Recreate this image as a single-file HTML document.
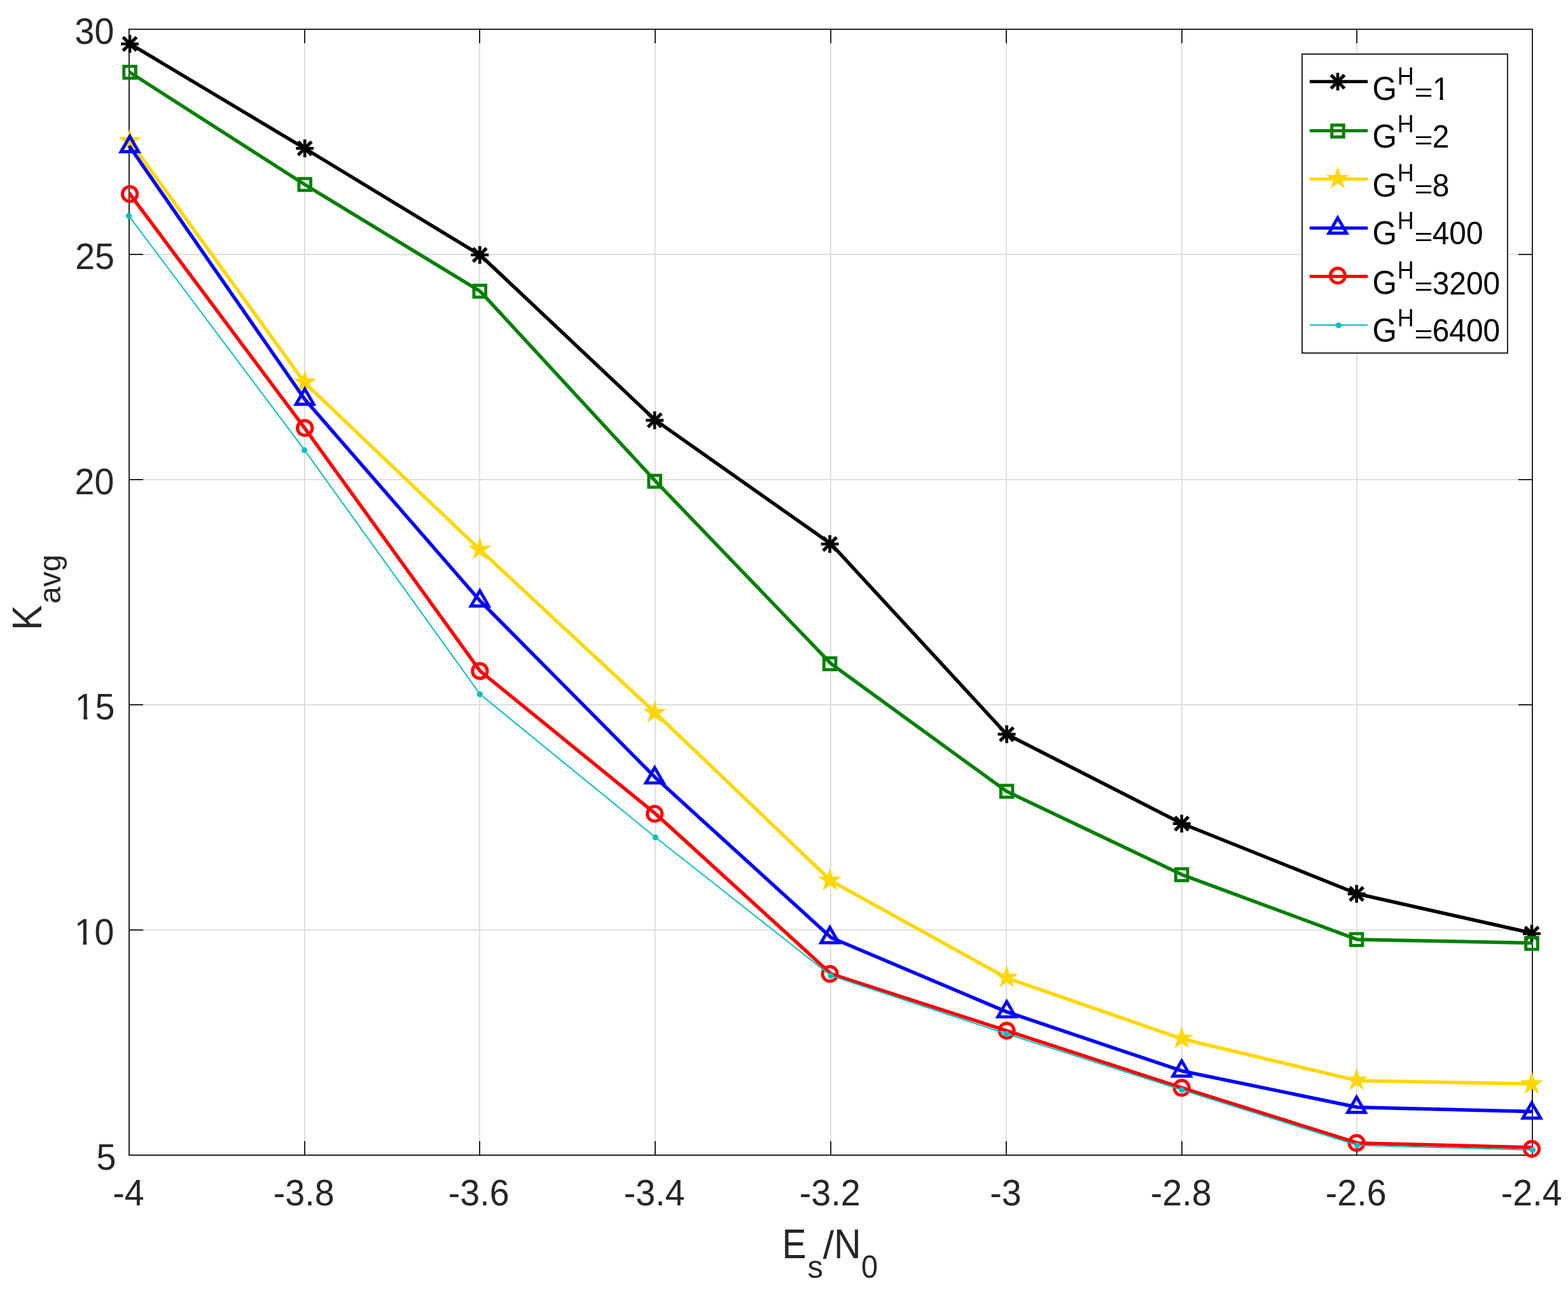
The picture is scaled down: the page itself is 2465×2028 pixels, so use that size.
<!DOCTYPE html>
<html lang="en">
<head>
<meta charset="utf-8">
<title>K_avg versus E_s/N_0</title>
<style>
html,body{margin:0;padding:0;background:#fff;}
body{width:2465px;height:2028px;overflow:hidden;}
svg{display:block;}
text{font-family:"Liberation Sans",Arial,Helvetica,sans-serif;font-kerning:none;}
</style>
</head>
<body>
<svg width="2465" height="2028" viewBox="0 0 2465 2028">
<rect width="2465" height="2028" fill="#fff"/>
<defs><clipPath id="k1"><path d="M-5.56 -55.6H38.92V-5.45H19.39V5.56H13.48V-5.45H-5.56Z"/></clipPath><clipPath id="k2"><path d="M-4.79 -47.9H33.53V-4.88H16.78V4.79H11.55V-4.88H-4.79Z"/></clipPath></defs>
<path d="M479 46V1816M754 46V1816M1030 46V1816M1306 46V1816M1582 46V1816M1858 46V1816M2133 46V1816M203 400H2409M203 754H2409M203 1108H2409M203 1462H2409" stroke="#DFDFDF" stroke-width="2" fill="none" shape-rendering="crispEdges"/>
<path d="M479 46v22M479 1816v-22M754 46v22M754 1816v-22M1030 46v22M1030 1816v-22M1306 46v22M1306 1816v-22M1582 46v22M1582 1816v-22M1858 46v22M1858 1816v-22M2133 46v22M2133 1816v-22M203 400h22M2409 400h-22M203 754h22M2409 754h-22M203 1108h22M2409 1108h-22M203 1462h22M2409 1462h-22" stroke="#262626" stroke-width="2" fill="none" shape-rendering="crispEdges"/>
<rect x="203" y="46" width="2206" height="1770" stroke="#262626" stroke-width="2" fill="none" shape-rendering="crispEdges"/>
<g>
<text transform="translate(202 1895.1) scale(1 1.0306)" font-size="55.6" fill="#262626" text-anchor="middle">-4</text>
<text transform="translate(477.7 1895.1) scale(1 1.0306)" font-size="55.6" fill="#262626" text-anchor="middle">-3.8</text>
<text transform="translate(752.7 1895.1) scale(1 1.0306)" font-size="55.6" fill="#262626" text-anchor="middle">-3.6</text>
<text transform="translate(1028.7 1895.1) scale(1 1.0306)" font-size="55.6" fill="#262626" text-anchor="middle">-3.4</text>
<text transform="translate(1304.7 1895.1) scale(1 1.0306)" font-size="55.6" fill="#262626" text-anchor="middle">-3.2</text>
<text transform="translate(1581 1895.1) scale(1 1.0306)" font-size="55.6" fill="#262626" text-anchor="middle">-3</text>
<text transform="translate(1856.7 1895.1) scale(1 1.0306)" font-size="55.6" fill="#262626" text-anchor="middle">-2.8</text>
<text transform="translate(2131.7 1895.1) scale(1 1.0306)" font-size="55.6" fill="#262626" text-anchor="middle">-2.6</text>
<text transform="translate(2407.7 1895.1) scale(1 1.0306)" font-size="55.6" fill="#262626" text-anchor="middle">-2.4</text>
</g>
<g>
<text transform="translate(179.4 69.4) scale(1 1.0252)" font-size="55.6" fill="#262626" text-anchor="end">30</text>
<text transform="translate(180 423.4) scale(1 1.0252)" font-size="55.6" fill="#262626" text-anchor="end">25</text>
<text transform="translate(179.4 777.4) scale(1 1.0252)" font-size="55.6" fill="#262626" text-anchor="end">20</text>
<text transform="translate(117.87 1131.4) scale(1 1.0396)" font-size="55.6" fill="#262626" clip-path="url(#k1)">1</text>
<text transform="translate(180.3 1131.4) scale(1 1.0252)" font-size="55.6" fill="#262626" text-anchor="end">5</text>
<text transform="translate(116.97 1485.4) scale(1 1.0396)" font-size="55.6" fill="#262626" clip-path="url(#k1)">1</text>
<text transform="translate(179.4 1485.4) scale(1 1.0252)" font-size="55.6" fill="#262626" text-anchor="end">0</text>
<text transform="translate(182.5 1839.4) scale(1 1.0252)" font-size="55.6" fill="#262626" text-anchor="end">5</text>
</g>
<g>
<text transform="translate(1229.4 1978) scale(1 1.1226)" font-size="57.1" fill="#262626">E</text>
<text transform="translate(1269.6 2008.7) scale(1 1.0123)" font-size="48.85" fill="#262626">s</text>
<text transform="translate(1293.8 1978.3) scale(1 0.9839)" font-size="62.2" fill="#262626">/</text>
<text transform="translate(1311.1 1978) scale(1 1.0864)" font-size="59" fill="#262626">N</text>
<text transform="translate(1354.1 2008.65) scale(1 1.0641)" font-size="46.8" fill="#262626">0</text>
</g>
<g>
<text transform="translate(65 990.64) rotate(-90) scale(1 1.0853)" font-size="59.06" fill="#262626">K</text>
<text transform="translate(95.1 949.1) rotate(-90) scale(1 1.0167)" font-size="47.9" fill="#262626">avg</text>
</g>
<g>
<polyline points="203,68.1 478.88,233.2 754.75,400.8 1030.62,660.8 1306.5,855.2 1582.38,1154.3 1858.25,1294.8 2134.12,1405.2 2410,1467.3" fill="none" stroke="#000000" stroke-width="5.5" stroke-linejoin="round"/>
<path d="M190.15 69H218.05M204.1 55.05V82.95" stroke="#000000" stroke-width="4.6" fill="none"/><path d="M193.5 58.4L214.7 79.6M193.5 79.6L214.7 58.4" stroke="#000000" stroke-width="5.2" fill="none"/>
<path d="M465.25 233.2H493.15M479.2 219.25V247.15" stroke="#000000" stroke-width="4.6" fill="none"/><path d="M468.6 222.6L489.8 243.8M468.6 243.8L489.8 222.6" stroke="#000000" stroke-width="5.2" fill="none"/>
<path d="M740.35 400.8H768.25M754.3 386.85V414.75" stroke="#000000" stroke-width="4.6" fill="none"/><path d="M743.7 390.2L764.9 411.4M743.7 411.4L764.9 390.2" stroke="#000000" stroke-width="5.2" fill="none"/>
<path d="M1015.25 660.8H1043.15M1029.2 646.85V674.75" stroke="#000000" stroke-width="4.6" fill="none"/><path d="M1018.6 650.2L1039.8 671.4M1018.6 671.4L1039.8 650.2" stroke="#000000" stroke-width="5.2" fill="none"/>
<path d="M1290.65 855.2H1318.55M1304.6 841.25V869.15" stroke="#000000" stroke-width="4.6" fill="none"/><path d="M1294 844.6L1315.2 865.8M1294 865.8L1315.2 844.6" stroke="#000000" stroke-width="5.2" fill="none"/>
<path d="M1568.65 1154.3H1596.55M1582.6 1140.35V1168.25" stroke="#000000" stroke-width="4.6" fill="none"/><path d="M1572 1143.7L1593.2 1164.9M1572 1164.9L1593.2 1143.7" stroke="#000000" stroke-width="5.2" fill="none"/>
<path d="M1843.75 1294.8H1871.65M1857.7 1280.85V1308.75" stroke="#000000" stroke-width="4.6" fill="none"/><path d="M1847.1 1284.2L1868.3 1305.4M1847.1 1305.4L1868.3 1284.2" stroke="#000000" stroke-width="5.2" fill="none"/>
<path d="M2118.65 1405.2H2146.55M2132.6 1391.25V1419.15" stroke="#000000" stroke-width="4.6" fill="none"/><path d="M2122 1394.6L2143.2 1415.8M2122 1415.8L2143.2 1394.6" stroke="#000000" stroke-width="5.2" fill="none"/>
<path d="M2394.05 1467.8H2421.95M2408 1453.85V1481.75" stroke="#000000" stroke-width="4.6" fill="none"/><path d="M2397.4 1457.2L2418.6 1478.4M2397.4 1478.4L2418.6 1457.2" stroke="#000000" stroke-width="5.2" fill="none"/>
</g>
<g>
<polyline points="203,113 478.88,290 754.75,457.8 1030.62,756.6 1306.5,1043.5 1582.38,1244 1858.25,1375.1 2134.12,1477.1 2410,1482.5" fill="none" stroke="#008000" stroke-width="5.5" stroke-linejoin="round"/>
<rect x="194.8" y="104.3" width="18.6" height="18.6" stroke="#008000" stroke-width="4.9" fill="none"/>
<rect x="469.9" y="280.7" width="18.6" height="18.6" stroke="#008000" stroke-width="4.9" fill="none"/>
<rect x="745" y="448.5" width="18.6" height="18.6" stroke="#008000" stroke-width="4.9" fill="none"/>
<rect x="1019.9" y="747.3" width="18.6" height="18.6" stroke="#008000" stroke-width="4.9" fill="none"/>
<rect x="1295.3" y="1034.2" width="18.6" height="18.6" stroke="#008000" stroke-width="4.9" fill="none"/>
<rect x="1573.3" y="1234.7" width="18.6" height="18.6" stroke="#008000" stroke-width="4.9" fill="none"/>
<rect x="1848.4" y="1365.8" width="18.6" height="18.6" stroke="#008000" stroke-width="4.9" fill="none"/>
<rect x="2123.3" y="1467.8" width="18.6" height="18.6" stroke="#008000" stroke-width="4.9" fill="none"/>
<rect x="2398.7" y="1473.8" width="18.6" height="18.6" stroke="#008000" stroke-width="4.9" fill="none"/>
</g>
<g>
<polyline points="203,220.6 478.88,601.5 754.75,864.5 1030.62,1121 1306.5,1384.8 1582.38,1537.3 1858.25,1633.2 2134.12,1698.9 2410,1704.1" fill="none" stroke="#FFD700" stroke-width="5.5" stroke-linejoin="round"/>
<polygon points="204.1,201.7 208.39,215.5 222.27,215.5 211.04,223.65 215.33,236.85 204.1,228.7 192.87,236.85 197.16,223.65 185.93,215.5 199.81,215.5" fill="#FFD700"/>
<polygon points="479.2,581.2 483.49,595 497.37,595 486.14,603.15 490.43,616.35 479.2,608.2 467.97,616.35 472.26,603.15 461.03,595 474.91,595" fill="#FFD700"/>
<polygon points="754.3,844.2 758.59,858 772.47,858 761.24,866.15 765.53,879.35 754.3,871.2 743.07,879.35 747.36,866.15 736.13,858 750.01,858" fill="#FFD700"/>
<polygon points="1029.2,1100.7 1033.49,1114.5 1047.37,1114.5 1036.14,1122.65 1040.43,1135.85 1029.2,1127.7 1017.97,1135.85 1022.26,1122.65 1011.03,1114.5 1024.91,1114.5" fill="#FFD700"/>
<polygon points="1304.6,1364.5 1308.89,1378.3 1322.77,1378.3 1311.54,1386.45 1315.83,1399.65 1304.6,1391.5 1293.37,1399.65 1297.66,1386.45 1286.43,1378.3 1300.31,1378.3" fill="#FFD700"/>
<polygon points="1582.6,1517 1586.89,1530.8 1600.77,1530.8 1589.54,1538.95 1593.83,1552.15 1582.6,1544 1571.37,1552.15 1575.66,1538.95 1564.43,1530.8 1578.31,1530.8" fill="#FFD700"/>
<polygon points="1857.7,1612.9 1861.99,1626.7 1875.87,1626.7 1864.64,1634.85 1868.93,1648.05 1857.7,1639.9 1846.47,1648.05 1850.76,1634.85 1839.53,1626.7 1853.41,1626.7" fill="#FFD700"/>
<polygon points="2132.6,1678.6 2136.89,1692.4 2150.77,1692.4 2139.54,1700.55 2143.83,1713.75 2132.6,1705.6 2121.37,1713.75 2125.66,1700.55 2114.43,1692.4 2128.31,1692.4" fill="#FFD700"/>
<polygon points="2408,1684.5 2412.29,1698.3 2426.17,1698.3 2414.94,1706.45 2419.23,1719.65 2408,1711.5 2396.77,1719.65 2401.06,1706.45 2389.83,1698.3 2403.71,1698.3" fill="#FFD700"/>
</g>
<g>
<polyline points="203,229.3 478.88,627.5 754.75,944.7 1030.62,1222.8 1306.5,1474 1582.38,1590.6 1858.25,1683.7 2134.12,1740.7 2410,1747.6" fill="none" stroke="#0000FF" stroke-width="5.5" stroke-linejoin="round"/>
<polygon points="204.1,214.45 218,238.53 190.2,238.53" fill="none" stroke="#0000FF" stroke-width="4.9" stroke-linejoin="miter"/>
<polygon points="479.2,611.45 493.1,635.53 465.3,635.53" fill="none" stroke="#0000FF" stroke-width="4.9" stroke-linejoin="miter"/>
<polygon points="754.3,928.65 768.2,952.73 740.4,952.73" fill="none" stroke="#0000FF" stroke-width="4.9" stroke-linejoin="miter"/>
<polygon points="1029.2,1206.75 1043.1,1230.83 1015.3,1230.83" fill="none" stroke="#0000FF" stroke-width="4.9" stroke-linejoin="miter"/>
<polygon points="1304.6,1457.95 1318.5,1482.03 1290.7,1482.03" fill="none" stroke="#0000FF" stroke-width="4.9" stroke-linejoin="miter"/>
<polygon points="1582.6,1574.55 1596.5,1598.63 1568.7,1598.63" fill="none" stroke="#0000FF" stroke-width="4.9" stroke-linejoin="miter"/>
<polygon points="1857.7,1667.65 1871.6,1691.73 1843.8,1691.73" fill="none" stroke="#0000FF" stroke-width="4.9" stroke-linejoin="miter"/>
<polygon points="2132.6,1724.65 2146.5,1748.73 2118.7,1748.73" fill="none" stroke="#0000FF" stroke-width="4.9" stroke-linejoin="miter"/>
<polygon points="2408,1733.65 2421.9,1757.73 2394.1,1757.73" fill="none" stroke="#0000FF" stroke-width="4.9" stroke-linejoin="miter"/>
</g>
<g>
<polyline points="203,303.5 478.88,672.9 754.75,1054.9 1030.62,1279.4 1306.5,1531 1582.38,1620.4 1858.25,1710.2 2134.12,1796.9 2410,1804" fill="none" stroke="#FF0000" stroke-width="5.5" stroke-linejoin="round"/>
<circle cx="204.1" cy="305" r="11.6" fill="none" stroke="#FF0000" stroke-width="5"/>
<circle cx="479.2" cy="672.9" r="11.6" fill="none" stroke="#FF0000" stroke-width="5"/>
<circle cx="754.3" cy="1054.9" r="11.6" fill="none" stroke="#FF0000" stroke-width="5"/>
<circle cx="1029.2" cy="1279.4" r="11.6" fill="none" stroke="#FF0000" stroke-width="5"/>
<circle cx="1304.6" cy="1531" r="11.6" fill="none" stroke="#FF0000" stroke-width="5"/>
<circle cx="1582.6" cy="1620.4" r="11.6" fill="none" stroke="#FF0000" stroke-width="5"/>
<circle cx="1857.7" cy="1710.2" r="11.6" fill="none" stroke="#FF0000" stroke-width="5"/>
<circle cx="2132.6" cy="1796.9" r="11.6" fill="none" stroke="#FF0000" stroke-width="5"/>
<circle cx="2408" cy="1806.1" r="11.6" fill="none" stroke="#FF0000" stroke-width="5"/>
</g>
<g>
<polyline points="203,339.9 478.88,707.7 754.75,1091.5 1030.62,1316.5 1306.5,1533.9 1582.38,1625.3 1858.25,1713.5 2134.12,1800.6 2410,1807.9" fill="none" stroke="#00BFBF" stroke-width="2" stroke-linejoin="round"/>
<circle cx="202.6" cy="339.6" r="4.6" fill="#00BFBF"/>
<circle cx="478.6" cy="707.7" r="4.6" fill="#00BFBF"/>
<circle cx="754.4" cy="1091.5" r="4.6" fill="#00BFBF"/>
<circle cx="1030.4" cy="1316.5" r="4.6" fill="#00BFBF"/>
<circle cx="1306" cy="1533.9" r="4.6" fill="#00BFBF"/>
<circle cx="1581.9" cy="1625.3" r="4.6" fill="#00BFBF"/>
<circle cx="1857.9" cy="1713.5" r="4.6" fill="#00BFBF"/>
<circle cx="2133.3" cy="1800.6" r="4.6" fill="#00BFBF"/>
<circle cx="2409.6" cy="1808.1" r="4.6" fill="#00BFBF"/>
</g>
<rect x="2047" y="85.2" width="322.6" height="470" fill="#fff" stroke="#262626" stroke-width="2" shape-rendering="crispEdges"/>
<g>
<path d="M2058.9 128.35H2150.2" stroke="#000000" stroke-width="5" fill="none"/>
<path d="M2089.05 128.4H2116.95M2103 114.45V142.35" stroke="#000000" stroke-width="4.6" fill="none"/><path d="M2092.4 117.8L2113.6 139M2092.4 139L2113.6 117.8" stroke="#000000" stroke-width="5.2" fill="none"/>
<text transform="translate(2157.4 157.25) scale(1 1.0566)" font-size="49.5" fill="#000">G</text>
<text transform="translate(2196.8 132.75) scale(1 1.0914)" font-size="36.1" fill="#000">H</text>
<text transform="translate(2223.46 158.78) scale(1 0.7691)" font-size="49.8" fill="#000">=</text>
<text transform="translate(2251.9 157.27) scale(1 1.0438)" font-size="47.9" fill="#000" clip-path="url(#k2)">1</text>
</g>
<g>
<path d="M2058.9 205.6H2150.2" stroke="#008000" stroke-width="5" fill="none"/>
<rect x="2093.7" y="196.7" width="18.6" height="18.6" stroke="#008000" stroke-width="4.9" fill="none"/>
<text transform="translate(2157.4 232.21) scale(1 1.0566)" font-size="49.5" fill="#000">G</text>
<text transform="translate(2196.8 207.71) scale(1 1.0914)" font-size="36.1" fill="#000">H</text>
<text transform="translate(2223.46 233.74) scale(1 0.7691)" font-size="49.8" fill="#000">=</text>
<text transform="translate(2251.7 232.33) scale(1 1.0397)" font-size="47.9" fill="#000">2</text>
</g>
<g>
<path d="M2058.9 281.5H2150.2" stroke="#FFD700" stroke-width="5" fill="none"/>
<polygon points="2103,261.2 2107.29,275 2121.17,275 2109.94,283.15 2114.23,296.35 2103,288.2 2091.77,296.35 2096.06,283.15 2084.83,275 2098.71,275" fill="#FFD700"/>
<text transform="translate(2157.4 309.25) scale(1 1.0566)" font-size="49.5" fill="#000">G</text>
<text transform="translate(2196.8 284.75) scale(1 1.0914)" font-size="36.1" fill="#000">H</text>
<text transform="translate(2223.46 310.78) scale(1 0.7691)" font-size="49.8" fill="#000">=</text>
<text transform="translate(2251.7 309.37) scale(1 1.0397)" font-size="47.9" fill="#000">8</text>
</g>
<g>
<path d="M2058.9 358.6H2150.2" stroke="#0000FF" stroke-width="5" fill="none"/>
<polygon points="2103,342.45 2116.9,366.53 2089.1,366.53" fill="none" stroke="#0000FF" stroke-width="4.9" stroke-linejoin="miter"/>
<text transform="translate(2157.4 384.21) scale(1 1.0566)" font-size="49.5" fill="#000">G</text>
<text transform="translate(2196.8 359.71) scale(1 1.0914)" font-size="36.1" fill="#000">H</text>
<text transform="translate(2223.46 385.74) scale(1 0.7691)" font-size="49.8" fill="#000">=</text>
<text transform="translate(2251.7 384.33) scale(1 1.0397)" font-size="47.9" fill="#000">400</text>
</g>
<g>
<path d="M2058.9 434.55H2150.2" stroke="#FF0000" stroke-width="5" fill="none"/>
<circle cx="2103" cy="433.4" r="11.6" fill="none" stroke="#FF0000" stroke-width="5"/>
<text transform="translate(2157.4 462.46) scale(1 1.0566)" font-size="49.5" fill="#000">G</text>
<text transform="translate(2196.8 437.96) scale(1 1.0914)" font-size="36.1" fill="#000">H</text>
<text transform="translate(2223.46 463.99) scale(1 0.7691)" font-size="49.8" fill="#000">=</text>
<text transform="translate(2251.7 462.58) scale(1 1.0397)" font-size="47.9" fill="#000">3200</text>
</g>
<g>
<path d="M2058.9 511H2150.2" stroke="#00BFBF" stroke-width="2" fill="none"/>
<circle cx="2104.4" cy="511.5" r="4.6" fill="#00BFBF"/>
<text transform="translate(2157.4 537.25) scale(1 1.0566)" font-size="49.5" fill="#000">G</text>
<text transform="translate(2196.8 512.75) scale(1 1.0914)" font-size="36.1" fill="#000">H</text>
<text transform="translate(2223.46 538.78) scale(1 0.7691)" font-size="49.8" fill="#000">=</text>
<text transform="translate(2251.7 537.37) scale(1 1.0397)" font-size="47.9" fill="#000">6400</text>
</g>
</svg>
</body>
</html>
